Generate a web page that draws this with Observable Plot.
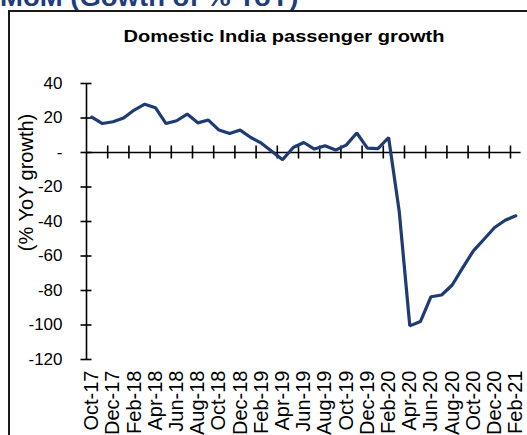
<!DOCTYPE html>
<html>
<head>
<meta charset="utf-8">
<script src="https://cdn.jsdelivr.net/npm/d3@7"></script>
<script src="https://cdn.jsdelivr.net/npm/@observablehq/plot@0.6"></script>
<style>
  html, body { margin: 0; padding: 0; background: #fff; }
  #wrap { position: relative; width: 527px; height: 435px; overflow: hidden; font-family: Arial, "Liberation Sans", sans-serif; }
  #top { position: absolute; left: 0; top: -15px; font: bold 25px/25px Arial, "Liberation Sans", sans-serif; color: #1f3c7c; white-space: nowrap; transform: scaleX(1.1); transform-origin: left center; }
  #box { position: absolute; left: 8px; top: 10px; width: 540px; height: 460px; border: 2px solid #1a1a1a; box-sizing: border-box; }
  #title { position: absolute; left: 284px; top: 28px; font: bold 17px/17px Arial, "Liberation Sans", sans-serif; color: #000; white-space: nowrap; transform: translateX(-50%) scaleX(1.18); }
  #chart { position: absolute; left: 0; top: 0; }
</style>
</head>
<body>
<div id="wrap">
  <div id="top">MoM (Gowth of % YoY)</div>
  <div id="box"></div>
  <div id="chart"></div>
  <div id="title">Domestic India passenger growth</div>
</div>
<script>
const months = [
  "Oct-17","Nov-17","Dec-17",
  "Jan-18","Feb-18","Mar-18","Apr-18","May-18","Jun-18","Jul-18","Aug-18","Sep-18","Oct-18","Nov-18","Dec-18",
  "Jan-19","Feb-19","Mar-19","Apr-19","May-19","Jun-19","Jul-19","Aug-19","Sep-19","Oct-19","Nov-19","Dec-19",
  "Jan-20","Feb-20","Mar-20","Apr-20","May-20","Jun-20","Jul-20","Aug-20","Sep-20","Oct-20","Nov-20","Dec-20",
  "Jan-21","Feb-21"
];
const growth = [
  20.5, 16.8, 17.8,
  20, 24.6, 28, 26, 16.8, 18.4, 22.3, 17.2, 18.8, 13, 11, 13,
  8.7, 5.4, 0.6, -4.2, 2.9, 5.8, 2, 3.9, 1.4, 4.3, 11.3, 2.5,
  2.3, 8.7, -34, -100.5, -98, -83.6, -82.6, -76.8, -66.7, -57, -50.3, -43.5,
  -39.3, -36.7
];
const yTicks = [40, 20, 0, -20, -40, -60, -80, -100, -120];
const yLabel = "(% YoY growth)";

const data = months.map((m, i) => ({month: m, value: growth[i]}));
const labelMonths = months.filter((m, i) => i % 2 === 0);
const tickMonths = labelMonths.slice(1);
const firstMonth = () => months[0];

const W = 527, H = 435, mL = 86, mR = 6.4, mT = 83, mB = 76;
const step = (W - mL - mR) / months.length;

const plot = Plot.plot({
  width: W,
  height: H,
  marginLeft: mL,
  marginRight: mR,
  marginTop: mT,
  marginBottom: mB,
  style: {background: "transparent", fontFamily: "Arial, 'Liberation Sans', sans-serif", color: "#000", overflow: "visible"},
  x: {type: "point", domain: months, padding: 0.5, round: false},
  y: {domain: [-120, 40]},
  marks: [
    Plot.axisY({ticks: yTicks, tickSize: 0, tickPadding: 24, fontSize: 17, label: null,
      tickFormat: d => d === 0 ? "-" : String(d)}),
    Plot.axisX({ticks: labelMonths, tickSize: 0, tickPadding: 11, tickRotate: -90, fontSize: 20, label: null}),
    Plot.text([yLabel], {text: d => d, frameAnchor: "left", textAnchor: "middle", lineAnchor: "middle", rotate: -90, dx: -59.5, dy: -39, fontSize: 20}),
    Plot.ruleY([0], {stroke: "#000", strokeWidth: 1.6}),
    Plot.ruleX([months[0]], {x: d => d, y1: -120, y2: 40, dx: -step / 2, stroke: "#000", strokeWidth: 1.6}),
    Plot.ruleY(yTicks, {y: d => d, x1: firstMonth, x2: firstMonth, insetLeft: -5.5, insetRight: -5.5, dx: -step / 2, stroke: "#000", strokeWidth: 1.6}),
    Plot.ruleX(tickMonths, {x: d => d, y1: 0, y2: 0, insetTop: -6.5, insetBottom: -6.5, dx: -step / 2, stroke: "#000", strokeWidth: 1.6}),
    Plot.line(data, {x: "month", y: "value", stroke: "#1f3b73", strokeWidth: 3.2, strokeLinejoin: "miter"})
  ]
});
document.getElementById("chart").appendChild(plot);
</script>
</body>
</html>
